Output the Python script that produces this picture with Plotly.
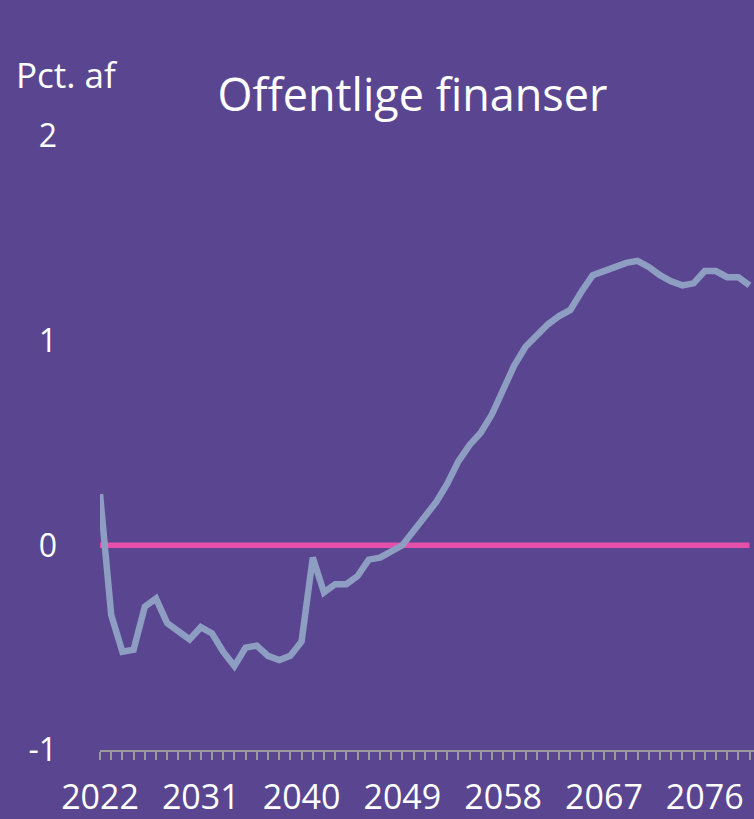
import plotly.graph_objects as go

years = list(range(2022, 2081))
balance = [0.25, -0.34, -0.52, -0.51, -0.30, -0.26, -0.38, -0.42, -0.46, -0.40,
           -0.43, -0.52, -0.59, -0.50, -0.49, -0.54, -0.56, -0.54, -0.47, -0.06,
           -0.23, -0.19, -0.19, -0.15, -0.07, -0.06, -0.03, 0.00, 0.07, 0.14,
           0.21, 0.30, 0.41, 0.49, 0.55, 0.64, 0.77, 0.88, 0.97, 1.03,
           1.08, 1.12, 1.15, 1.24, 1.32, 1.34, 1.36, 1.38, 1.39, 1.36,
           1.32, 1.29, 1.27, 1.28, 1.34, 1.34, 1.31, 1.31, 1.27]
zero_line = [0.0 for _ in years]
x_tick_vals = [2022, 2031, 2040, 2049, 2058, 2067, 2076]
y_tick_vals = [-1, 0, 1, 2]
title_text = "Offentlige finanser"
unit_text = "Pct. af"

BG = "#5A4690"
FONT = "Open Sans"

fig = go.Figure()
fig.add_trace(go.Scatter(x=years, y=zero_line, mode="lines",
                         line=dict(color="#E44FAA", width=5.5), hoverinfo="skip"))
fig.add_trace(go.Scatter(x=years, y=balance, mode="lines",
                         line=dict(color="#8E9DC2", width=6.5)))

fig.update_layout(
    width=754, height=819,
    paper_bgcolor=BG, plot_bgcolor=BG,
    margin=dict(l=100, r=0, t=136, b=69, autoexpand=False),
    showlegend=False,
    font=dict(family=FONT, color="white"),
    title=dict(text=title_text, x=0.547, xanchor="center", y=0.884, yanchor="middle",
               font=dict(size=45, color="white", family=FONT)),
    annotations=[dict(text=unit_text, xref="paper", yref="paper", x=-0.131, y=1.10,
                      xanchor="left", yanchor="middle", showarrow=False,
                      font=dict(size=35, color="white", family=FONT))],
)
fig.update_xaxes(range=[2022, 2080.4], tickvals=x_tick_vals, ticktext=[str(v) for v in x_tick_vals],
                 automargin=False,
                 showgrid=False, zeroline=False, showline=True, linecolor="#9A9A9A", linewidth=2,
                 ticks="outside", ticklen=8, tickcolor="#9A9A9A", tickwidth=2,
                 minor=dict(dtick=1, ticks="outside", ticklen=8, tickcolor="#9A9A9A", tickwidth=2),
                 tickfont=dict(size=34, color="white", family=FONT), ticklabelstandoff=8)
fig.update_yaxes(range=[-1, 2], tickvals=y_tick_vals, ticktext=["-1", "0", "1", "2"],
                 automargin=False,
                 showgrid=False, zeroline=False, showline=False, ticks="",
                 tickfont=dict(size=32, color="white", family=FONT), ticklabelstandoff=42)

fig.write_html("out.html", config={"displayModeBar": False},
               post_script="document.body.style.margin='0';document.body.style.background='%s';" % BG)
